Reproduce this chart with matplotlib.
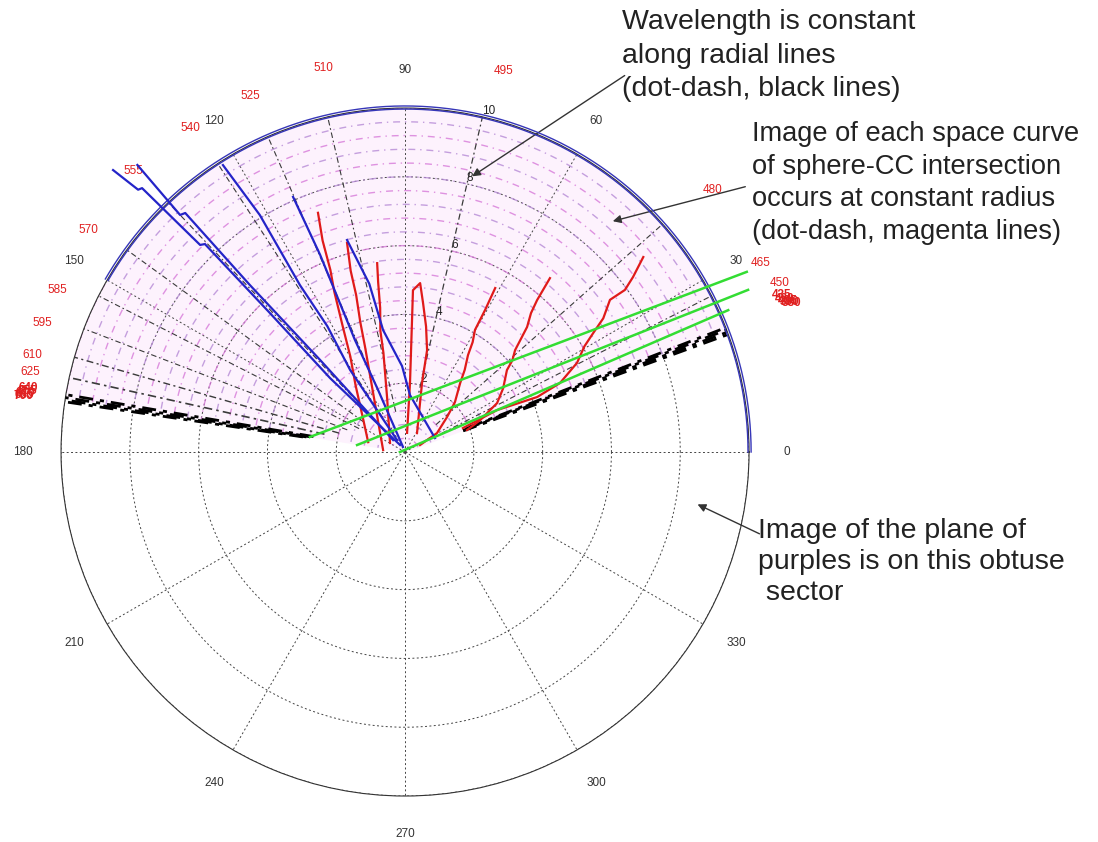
import numpy as np
import matplotlib.pyplot as plt

plt.rcParams['font.family'] = ['Liberation Sans', 'DejaVu Sans']

# wavelength labels (nm) round the rim: angle in degrees, radius in plot units
wl_text = ['450', '465', '480', '495', '510', '525', '540', '555', '570', '585', '595', '610', '625']
wl_theta = [24.3, 28.0, 40.5, 75.5, 102.0, 113.5, 123.5, 134.0, 145.0, 155.0, 160.4, 165.4, 168.0]
wl_r = [11.95, 11.7, 11.75, 11.45, 11.4, 11.3, 11.3, 11.35, 11.25, 11.15, 11.2, 11.2, 11.15]
# labels piled on top of each other at both ends of the locus
short_text = ['435', '420', '405', '390', '380']
short_theta = [22.6, 22.0, 21.6, 21.3, 21.0]
long_text = ['640', '655', '670', '685', '700']
long_theta = [170.4, 170.9, 171.2, 171.5, 171.7]

# constant-wavelength radial lines (dot-dash, black)
rad_theta = [20.0, 20.4, 20.8, 21.2, 27.0, 41.5, 77.0, 103.0, 113.5, 123.0,
             133.5, 144.0, 153.0, 159.0, 164.0, 167.5, 170.4, 170.9, 171.3, 171.6]
rad_rin = [1.8, 1.8, 1.9, 2.0, 1.2, 1.2, 1.5, 1.2, 1.2, 1.2,
           1.5, 1.5, 1.5, 1.8, 2.0, 2.4, 2.7, 2.8, 2.9, 3.0]
rad_lw = [2.0, 2.0, 2.0, 2.0, 0.8, 0.8, 0.9, 0.8, 0.8, 0.8,
          0.8, 0.8, 0.8, 0.8, 1.0, 1.2, 2.0, 2.0, 2.0, 2.0]

# constant-radius images (dot-dash, magenta)
arc_r = [0.4, 0.8, 1.2, 1.6, 2.0, 2.4, 2.8, 3.2, 3.6, 4.0, 4.4, 4.8, 5.2,
         5.6, 6.0, 6.4, 6.8, 7.2, 7.6, 8.0, 8.4, 8.8, 9.2, 9.6, 10.0]
arc_span = [20.5, 171.0]

# blue rim of the locus
rim_r = [10.06, 9.97]
rim_span = [0.0, 150.0]

# blue traces (theta deg, r)
blue_theta = [
    [136.0, 135.5, 134.9, 134.7, 133.9, 134.2, 135.4, 125.5],
    [133.0, 133.5, 132.6, 132.9, 132.7, 135.0],
    [122.4, 121.5, 122.2, 121.7, 123.8, 123.7],
    [113.7, 113.3, 114.1, 113.5, 112.0],
    [105.3, 102.0, 100.2, 92.0, 85.0, 25.0],
]
blue_r = [
    [11.80, 10.88, 10.83, 8.47, 8.39, 5.63, 3.06, 0.25],
    [11.41, 9.50, 9.44, 6.62, 3.64, 0.49],
    [9.88, 8.08, 5.73, 4.30, 2.87, 0.42],
    [8.10, 6.24, 3.57, 2.00, 0.16],
    [6.39, 5.00, 3.60, 2.50, 1.66, 0.96],
]

# red traces (theta deg, r)
red_theta = [
    [110.0, 111.3, 112.3, 113.8, 116.5, 119.8, 126.5, 141.8, 165.0],
    [105.5, 106.7, 107.3, 109.0, 110.8, 119.9, 175.0],
    [98.4, 99.0, 99.8, 101.5, 102.3, 108.4, 149.0],
    [84.0, 85.9, 87.0, 87.2, 84.9, 83.1, 80.5, 77.8, 76.2, 57.7],
    [61.2, 60.6, 60.2, 58.4, 57.0, 54.0, 51.4, 45.0, 39.8, 30.7, 25.0],
    [50.2, 49.0, 47.8, 45.7, 42.8, 40.5, 38.8, 33.0, 28.0, 23.0, 19.5],
    [39.3, 37.5, 36.4, 36.6, 34.0, 32.3, 30.5, 27.4, 24.0, 22.6, 24.5, 22.5],
]
red_r = [
    [7.40, 6.60, 5.72, 5.10, 4.04, 3.20, 2.42, 1.55, 1.11],
    [6.31, 5.50, 4.78, 4.00, 3.28, 1.81, 0.64],
    [5.55, 5.00, 4.25, 3.60, 2.95, 1.65, 0.51],
    [0.56, 2.01, 3.93, 4.71, 4.93, 4.36, 3.70, 3.03, 2.07, 0.65],
    [5.44, 4.74, 4.09, 3.75, 3.36, 2.95, 2.57, 2.05, 1.59, 1.08, 0.48],
    [6.58, 5.85, 5.45, 5.08, 4.36, 4.10, 3.80, 3.40, 3.03, 2.37, 1.91],
    [8.95, 8.35, 7.94, 7.42, 6.95, 6.47, 6.05, 5.63, 4.93, 4.16, 2.94, 1.82],
]

# green lines: start and end (theta deg, r)
green_theta = [[171.0, 27.8], [171.7, 25.3], [180.0, 23.7]]
green_r = [[2.80, 11.23], [1.41, 11.03], [0.15, 10.26]]

angle_ticks = [0, 30, 60, 90, 120, 150, 180, 210, 240, 270, 300, 330]
r_ticks = [2, 4, 6, 8, 10]

fig = plt.figure(figsize=(10.98, 8.42), dpi=100)
ax = fig.add_axes([0.0556, 0.0546, 0.6266, 0.8171], projection='polar')
ax.set_rlim(0, 10)
ax.set_thetagrids(angle_ticks, [str(a) for a in angle_ticks], fontsize=8.5, color='#333333')
ax.set_rgrids(r_ticks, [str(r) for r in r_ticks], fontsize=8.5, color='#222222')
ax.set_rlabel_position(77)
ax.tick_params(axis='x', pad=17)
ax.grid(True, color='#444444', linestyle=(0, (2, 2.5)), linewidth=0.7)
ax.spines['polar'].set_linewidth(0.8)
ax.spines['polar'].set_color('#333333')

# faint tint of the sector covered by the arcs
th = np.radians(np.linspace(arc_span[0], arc_span[1], 300))
ax.fill_between(th, 0, 10, color='#fdf2fd', zorder=1, lw=0)

# magenta constant-radius arcs
for i, r in enumerate(arc_r):
    col = '#d77ad9' if i % 2 == 0 else '#b68ad6'
    ax.plot(th, np.full_like(th, r), color=col, lw=1.0,
            linestyle=(i * 2, (5, 3.5, 1, 3.5)), alpha=0.8, zorder=2)

# black constant-wavelength radials
for t, rin, lw in zip(rad_theta, rad_rin, rad_lw):
    col = 'black' if lw > 1.5 else '#3a3a3a'
    ax.plot([np.radians(t)] * 2, [rin, 10.0], color=col, lw=lw,
            linestyle=(0, (5, 2.5, 1.5, 2.5)), zorder=3, clip_on=False)

# blue rim
th = np.radians(np.linspace(rim_span[0], rim_span[1], 400))
for r in rim_r:
    ax.plot(th, np.full_like(th, r), color='#3636b8', lw=1.0, zorder=4, clip_on=False)

for t, r in zip(red_theta, red_r):
    ax.plot(np.radians(t), r, color='#e01a1a', lw=1.6, zorder=5, clip_on=False)

for t, r in zip(blue_theta, blue_r):
    ax.plot(np.radians(t), r, color='#2424c8', lw=1.6, zorder=6, clip_on=False)

for t, r in zip(green_theta, green_r):
    ax.plot(np.radians(t), r, color='#33dd33', lw=1.8, zorder=7, clip_on=False)

# wavelength labels
for s, t, r in zip(wl_text, wl_theta, wl_r):
    ax.text(np.radians(t), r, s, color='#e02020', fontsize=8.5,
            ha='center', va='center', clip_on=False)
for i, (s, t) in enumerate(zip(short_text, short_theta)):
    ax.text(np.radians(t), 11.85 + 0.05 * i, s, color='#e02020', fontsize=8.5,
            ha='center', va='center', clip_on=False, fontweight='bold')
for i, (s, t) in enumerate(zip(long_text, long_theta)):
    ax.text(np.radians(t), 11.1 + 0.03 * i, s, color='#e02020', fontsize=8.5,
            ha='center', va='center', clip_on=False, fontweight='bold')

# notes with arrows
W, H = 1098.0, 842.0
note_kw = dict(color='#222222', va='top', ha='left')
fig.text(622 / W, 1 - 9 / H, 'Wavelength is constant\nalong radial lines\n(dot-dash, black lines)',
         fontsize=20.5, linespacing=1.38, **note_kw)
fig.text(752 / W, 1 - 121 / H, 'Image of each space curve\nof sphere-CC intersection\noccurs at constant radius\n(dot-dash, magenta lines)',
         fontsize=19.6, linespacing=1.33, **note_kw)
fig.text(758 / W, 1 - 518 / H, 'Image of the plane of\npurples is on this obtuse\n sector',
         fontsize=20.5, linespacing=1.25, **note_kw)

arrow_kw = dict(arrowstyle='-|>', color='#333333', lw=1.0, mutation_scale=12)
ax.annotate('', xy=(np.radians(76.7), 8.19), xytext=(627 / W, 1 - 74 / H),
            textcoords='figure fraction', arrowprops=arrow_kw)
ax.annotate('', xy=(np.radians(48.3), 8.96), xytext=(748 / W, 1 - 186 / H),
            textcoords='figure fraction', arrowprops=arrow_kw)
ax.annotate('', xy=(np.radians(350.0), 8.56), xytext=(762 / W, 1 - 535 / H),
            textcoords='figure fraction', arrowprops=arrow_kw)

fig.savefig('out.png', dpi=100)
